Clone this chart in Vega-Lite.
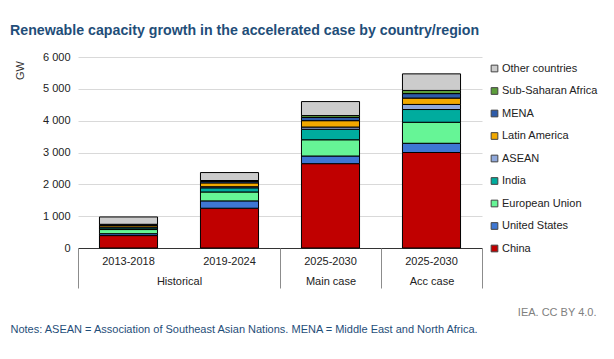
{
  "$schema": "https://vega.github.io/schema/vega-lite/v6.json",
  "width": 404,
  "height": 191,
  "autosize": "none",
  "padding": {"left": 78, "top": 57, "right": 132, "bottom": 111},
  "background": "white",
  "title": {
    "text": "Renewable capacity growth in the accelerated case by country/region",
    "anchor": "start",
    "frame": "group",
    "dx": -68,
    "offset": 13,
    "fontSize": 14.2,
    "fontWeight": "bold",
    "color": "#1F4E79",
    "font": "Liberation Sans"
  },
  "data": {
    "values": [
      {"bar": "2013-2018|Historical", "region": "China", "value": 390},
      {"bar": "2013-2018|Historical", "region": "United States", "value": 60},
      {"bar": "2013-2018|Historical", "region": "European Union", "value": 130},
      {"bar": "2013-2018|Historical", "region": "India", "value": 50},
      {"bar": "2013-2018|Historical", "region": "ASEAN", "value": 30},
      {"bar": "2013-2018|Historical", "region": "Latin America", "value": 50},
      {"bar": "2013-2018|Historical", "region": "MENA", "value": 20},
      {"bar": "2013-2018|Historical", "region": "Sub-Saharan Africa", "value": 15},
      {"bar": "2013-2018|Historical", "region": "Other countries", "value": 230},
      {"bar": "2019-2024|Historical", "region": "China", "value": 1250},
      {"bar": "2019-2024|Historical", "region": "United States", "value": 230},
      {"bar": "2019-2024|Historical", "region": "European Union", "value": 280},
      {"bar": "2019-2024|Historical", "region": "India", "value": 130},
      {"bar": "2019-2024|Historical", "region": "ASEAN", "value": 35},
      {"bar": "2019-2024|Historical", "region": "Latin America", "value": 120},
      {"bar": "2019-2024|Historical", "region": "MENA", "value": 45},
      {"bar": "2019-2024|Historical", "region": "Sub-Saharan Africa", "value": 30},
      {"bar": "2019-2024|Historical", "region": "Other countries", "value": 250},
      {"bar": "2025-2030|Main case", "region": "China", "value": 2650},
      {"bar": "2025-2030|Main case", "region": "United States", "value": 240},
      {"bar": "2025-2030|Main case", "region": "European Union", "value": 510},
      {"bar": "2025-2030|Main case", "region": "India", "value": 330},
      {"bar": "2025-2030|Main case", "region": "ASEAN", "value": 70},
      {"bar": "2025-2030|Main case", "region": "Latin America", "value": 200},
      {"bar": "2025-2030|Main case", "region": "MENA", "value": 100},
      {"bar": "2025-2030|Main case", "region": "Sub-Saharan Africa", "value": 60},
      {"bar": "2025-2030|Main case", "region": "Other countries", "value": 440},
      {"bar": "2025-2030|Acc case", "region": "China", "value": 3000},
      {"bar": "2025-2030|Acc case", "region": "United States", "value": 290},
      {"bar": "2025-2030|Acc case", "region": "European Union", "value": 660},
      {"bar": "2025-2030|Acc case", "region": "India", "value": 400},
      {"bar": "2025-2030|Acc case", "region": "ASEAN", "value": 160},
      {"bar": "2025-2030|Acc case", "region": "Latin America", "value": 200},
      {"bar": "2025-2030|Acc case", "region": "MENA", "value": 140},
      {"bar": "2025-2030|Acc case", "region": "Sub-Saharan Africa", "value": 100},
      {"bar": "2025-2030|Acc case", "region": "Other countries", "value": 520}
    ]
  },
  "layer": [
    {
      "transform": [
        {"calculate": "indexof(['China','United States','European Union','India','ASEAN','Latin America','MENA','Sub-Saharan Africa','Other countries'], datum.region)", "as": "stackOrder"}
      ],
      "mark": {"type": "bar", "width": {"band": 0.575}, "stroke": "#000000", "strokeWidth": 1},
      "encoding": {
        "x": {
          "field": "bar",
          "type": "nominal",
          "scale": {
            "domain": ["2013-2018|Historical", "2019-2024|Historical", "2025-2030|Main case", "2025-2030|Acc case"],
            "paddingInner": 0,
            "paddingOuter": 0
          },
          "axis": {
            "orient": "bottom",
            "labelExpr": "split(datum.value, '|')[0]",
            "labelAngle": 0,
            "labelPadding": 7,
            "labelFontSize": 11,
            "labelColor": "#222222",
            "ticks": false,
            "domain": true,
            "domainColor": "#333333",
            "domainWidth": 1,
            "grid": false,
            "title": "IEA. CC BY 4.0.",
            "titleAlign": "right",
            "titleAnchor": "end",
            "titleX": 518,
            "titleY": 67,
            "titleBaseline": "alphabetic",
            "titleColor": "#808080",
            "titleFontSize": 11,
            "titleFontWeight": "normal"
          }
        },
        "y": {
          "field": "value",
          "type": "quantitative",
          "stack": "zero",
          "scale": {"domain": [0, 6000], "nice": false},
          "axis": {
            "values": [0, 1000, 2000, 3000, 4000, 5000, 6000],
            "labelExpr": "replace(format(datum.value, ','), ',', ' ')",
            "labelPadding": 8,
            "labelFontSize": 11,
            "labelColor": "#222222",
            "ticks": false,
            "domain": false,
            "grid": true,
            "gridColor": "#d9d9d9",
            "gridWidth": 1,
            "title": "GW",
            "titleX": -58,
            "titleY": 13,
            "titleAngle": -90,
            "titleAlign": "center",
            "titleBaseline": "middle",
            "titleFontSize": 11,
            "titleFontWeight": "normal",
            "titleColor": "#333333"
          }
        },
        "color": {
          "field": "region",
          "type": "nominal",
          "scale": {
            "domain": ["Other countries", "Sub-Saharan Africa", "MENA", "Latin America", "ASEAN", "India", "European Union", "United States", "China"],
            "range": ["#CCCCCC", "#5C9E3B", "#2E5BA8", "#F2A900", "#8FA8DB", "#00AC9E", "#66F596", "#3E77D3", "#C00000"]
          },
          "legend": {
            "orient": "none",
            "legendX": 411,
            "legendY": 6,
            "title": null,
            "symbolType": "square",
            "symbolSize": 45,
            "symbolStrokeColor": "#444444",
            "symbolStrokeWidth": 1,
            "labelFontSize": 11,
            "labelColor": "#222222",
            "labelOffset": 2,
            "rowPadding": 10.5
          }
        },
        "order": {"field": "stackOrder", "type": "quantitative", "sort": "ascending"}
      }
    },
    {
      "mark": {"type": "text", "text": "", "opacity": 0},
      "encoding": {
        "x": {
          "field": "bar",
          "type": "nominal",
          "axis": {
            "orient": "bottom",
            "tickBand": "extent",
            "ticks": true,
            "tickSize": 40,
            "tickWidth": 1,
            "tickColor": {"condition": {"test": "datum.value === '2013-2018|Historical'", "value": "transparent"}, "value": "#8c8c8c"},
            "domain": false,
            "grid": false,
            "labelExpr": "datum.value === '2019-2024|Historical' ? '' : split(datum.value, '|')[1]",
            "labelOffset": {"condition": {"test": "datum.value === '2013-2018|Historical'", "value": 50.5}, "value": 0},
            "labelPadding": -13,
            "labelAngle": 0,
            "labelOverlap": false,
            "labelBound": false,
            "labelFontSize": 11,
            "labelColor": "#222222",
            "title": "Notes: ASEAN = Association of Southeast Asian Nations. MENA = Middle East and North Africa.",
            "titleAlign": "left",
            "titleAnchor": "start",
            "titleX": -68,
            "titleY": 84,
            "titleBaseline": "alphabetic",
            "titleColor": "#1F4E79",
            "titleFontSize": 11,
            "titleFontWeight": "normal"
          }
        }
      }
    }
  ],
  "resolve": {"axis": {"x": "independent"}},
  "config": {
    "view": {"stroke": null},
    "font": "Liberation Sans",
    "axis": {"labelFont": "Liberation Sans", "titleFont": "Liberation Sans"},
    "legend": {"labelFont": "Liberation Sans"}
  }
}
